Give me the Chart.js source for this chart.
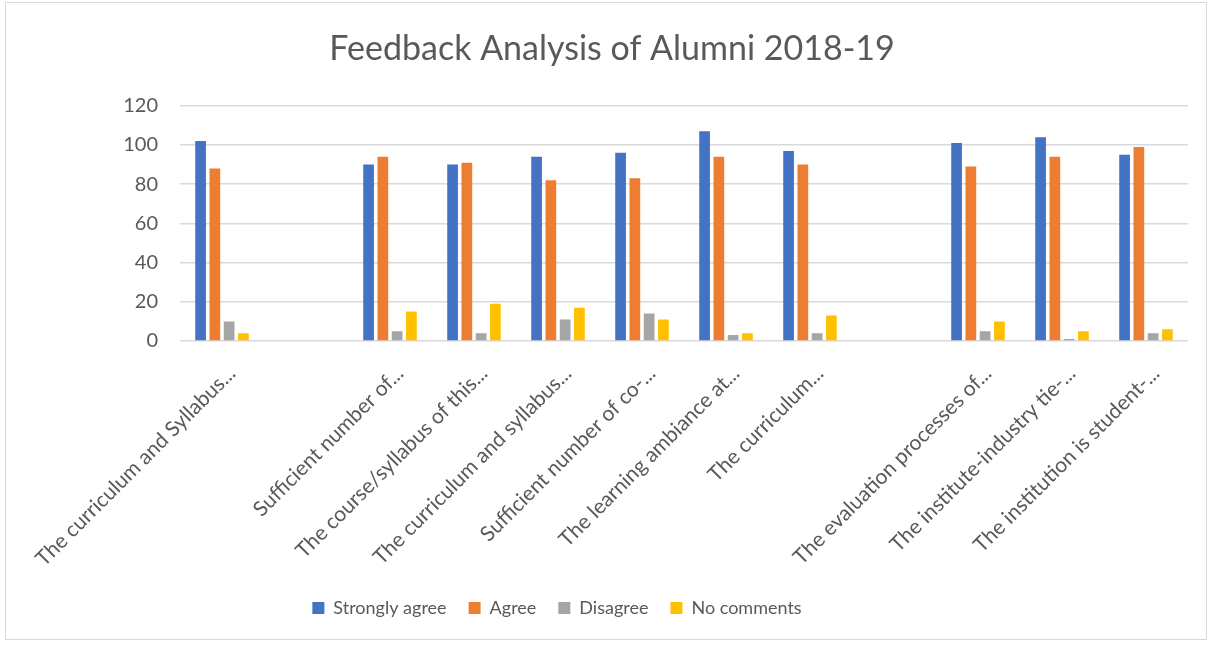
<!DOCTYPE html>
<html>
<head>
<meta charset="utf-8">
<script src="https://cdn.jsdelivr.net/npm/chart.js@4/dist/chart.umd.min.js"></script>
<style>
    body { margin: 0; background: #fff; }
    #wrap { position: relative; width: 1214px; height: 645px; }
    #frame { position: absolute; left: 5px; top: 2px; width: 1202px; height: 638px; border: 1px solid #d9d9d9; box-sizing: border-box; }
    canvas { position: absolute; left: 0; top: 0; }
</style>
</head>
<body>
<div id="wrap">
    <div id="frame"></div>
    <canvas id="chart" width="1214" height="645"></canvas>
</div>
<script>
"use strict";

const categories = [
    "The curriculum and Syllabus...",
    "",
    "Sufficient number of...",
    "The course/syllabus of this...",
    "The curriculum and syllabus...",
    "Sufficient number of co-...",
    "The learning ambiance at...",
    "The curriculum...",
    "",
    "The evaluation processes of...",
    "The institute-industry tie-...",
    "The institution is student-..."
];

const stronglyAgree = [102, null, 90, 90, 94, 96, 107, 97, null, 101, 104, 95];
const agree         = [88, null, 94, 91, 82, 83, 94, 90, null, 89, 94, 99];
const disagree      = [10, null, 5, 4, 11, 14, 3, 4, null, 5, 1, 4];
const noComments    = [4, null, 15, 19, 17, 11, 4, 13, null, 10, 5, 6];

const yTicks = [0, 20, 40, 60, 80, 100, 120];

const FONT = "Lato, 'Open Sans', sans-serif";
const GREY = '#595959';

const series = [
    {label: 'Strongly agree', data: stronglyAgree, color: '#4472C4'},
    {label: 'Agree', data: agree, color: '#ED7D31'},
    {label: 'Disagree', data: disagree, color: '#A5A5A5'},
    {label: 'No comments', data: noComments, color: '#FFC000'}
];

// legend sits left of centre in the original, title doesn't
const legendShift = {
    id: 'legendShift',
    afterLayout(chart) {
        chart.legend.left -= 55;
        chart.legend.right -= 55;
    }
};

new Chart(document.getElementById('chart'), {
    type: 'bar',
    data: {
        labels: categories,
        datasets: series.map(s => ({
            label: s.label,
            data: s.data,
            backgroundColor: s.color,
            borderWidth: 0,
            categoryPercentage: 0.68,
            barPercentage: 0.75
        }))
    },
    plugins: [legendShift],
    options: {
        responsive: false,
        animation: false,
        layout: {padding: {left: 36, right: 26, top: 12, bottom: 18}},
        plugins: {
            title: {
                display: true,
                text: 'Feedback Analysis of Alumni 2018-19',
                color: GREY,
                font: {family: FONT, size: 34, weight: 'normal'},
                padding: {top: 17, bottom: 36}
            },
            legend: {
                position: 'bottom',
                labels: {
                    color: GREY,
                    font: {family: FONT, size: 18},
                    boxWidth: 12,
                    boxHeight: 12,
                    padding: 22
                }
            },
            tooltip: {enabled: false}
        },
        scales: {
            x: {
                grid: {display: false},
                border: {display: false},
                ticks: {
                    color: GREY,
                    font: {family: FONT, size: 21},
                    maxRotation: 45,
                    minRotation: 45,
                    autoSkip: false,
                    padding: 12,
                    labelOffset: 10
                },
                afterFit: axis => { axis.height = 236; }
            },
            y: {
                min: 0,
                max: 120,
                afterBuildTicks: axis => { axis.ticks = yTicks.map(v => ({value: v})); },
                grid: {color: '#d9d9d9', lineWidth: 1.5, drawTicks: false},
                border: {display: false},
                ticks: {
                    color: GREY,
                    font: {family: FONT, size: 20},
                    padding: 22
                },
                afterFit: axis => { axis.width = 144; }
            }
        }
    }
});
</script>
</body>
</html>
